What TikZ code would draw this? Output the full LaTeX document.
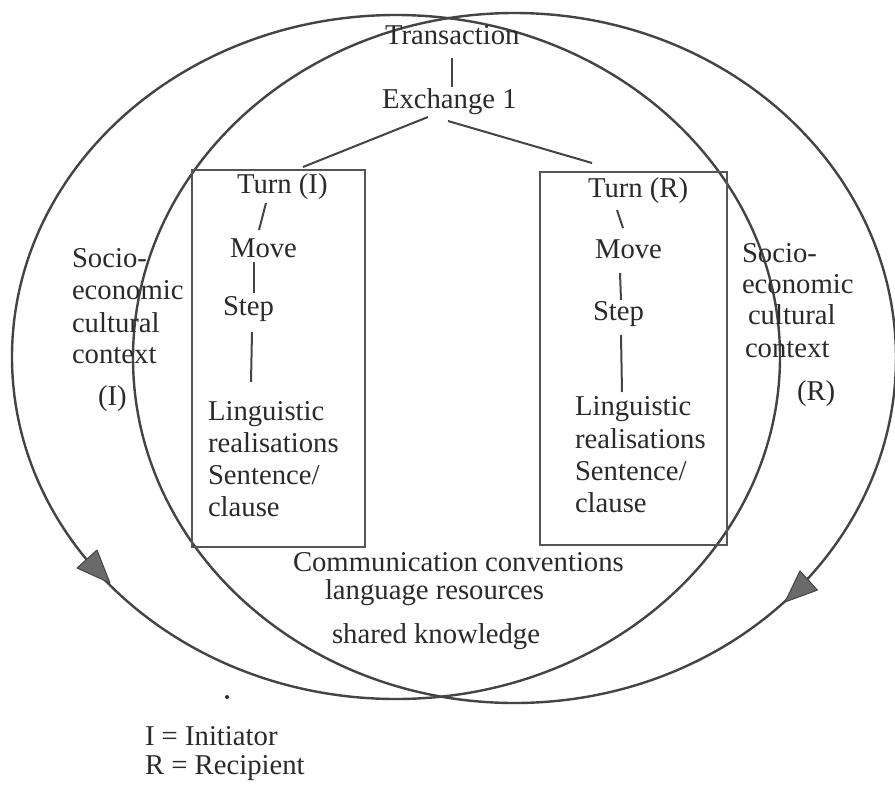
\documentclass[tikz,border=0pt]{standalone}
\usepackage{fontspec}
\setmainfont{Liberation Serif}
\usetikzlibrary{calc}
\definecolor{ink}{HTML}{2A2A2A}
\definecolor{pen}{HTML}{444444}
\definecolor{boxpen}{HTML}{555555}
\definecolor{headfill}{HTML}{6A6A6A}
\tikzset{
  lbl/.style={anchor=base west, inner sep=0pt, outer sep=0pt, text=ink, font=\fontsize{28.7}{32}\selectfont},
  conn/.style={draw=pen, line width=2pt},
  ring/.style={draw=pen, line width=2.4pt},
  frame/.style={draw=boxpen, line width=2pt},
  head/.style={fill=headfill, draw=pen, line width=1pt, line join=round},
}
\begin{document}
\begin{tikzpicture}[x=1pt,y=-1pt]
\useasboundingbox (0,0) rectangle (895,785);
\fill[white] (0,0) rectangle (895,785);

% two context ellipses
\draw[ring] (396,357) ellipse [x radius=384pt, y radius=342pt];
\draw[ring] (514.5,358) ellipse [x radius=381.5pt, y radius=345pt];
\filldraw[head] (110,583) -- (77,568) -- (97,550) -- cycle;
\filldraw[head] (785,602) -- (817.4,590.1) -- (800,570.9) -- cycle;

% boxes
\draw[frame] (192,170) rectangle (365,547);
\draw[frame] (540,172) rectangle (727,545);

% top of hierarchy
\node[lbl] (trans) at (385,44) {Transaction};
\node[lbl] (exch) at (382,108) {Exchange 1};

% left (initiator) column
\node[lbl] (turnI) at (237,193) {Turn (I)};
\node[lbl] (moveI) at (230,257) {Move};
\node[lbl] (stepI) at (223,315) {Step};
\node[lbl] (lingI) at (208,420) {Linguistic};
\node[lbl] (realI) at (208,452) {realisations};
\node[lbl] (sentI) at (208,484) {Sentence/};
\node[lbl] (clauI) at (208,516) {clause};

% right (recipient) column
\node[lbl] (turnR) at (588,197) {Turn (R)};
\node[lbl] (moveR) at (595,258) {Move};
\node[lbl] (stepR) at (593,320) {Step};
\node[lbl] (lingR) at (575,415) {Linguistic};
\node[lbl] (realR) at (575,448) {realisations};
\node[lbl] (sentR) at (575,480) {Sentence/};
\node[lbl] (clauR) at (575,512) {clause};

% context labels
\node[lbl] (soL1) at (72,267) {Socio-};
\node[lbl] (soL2) at (72,299) {economic};
\node[lbl] (soL3) at (72,332) {cultural};
\node[lbl] (soL4) at (72,363) {context};
\node[lbl] (soL5) at (98,405) {(I)};
\node[lbl] (soR1) at (742,262) {Socio-};
\node[lbl] (soR2) at (742,293) {economic};
\node[lbl] (soR3) at (748,324) {cultural};
\node[lbl] (soR4) at (745,357) {context};
\node[lbl] (soR5) at (797,400) {(R)};

% shared area
\node[lbl] (comm) at (293,571) {Communication conventions};
\node[lbl] (lang) at (325,599) {language resources};
\node[lbl] (shar) at (332,643) {shared knowledge};

% legend
\fill[ink] (227,697) circle (2pt);
\node[lbl] (legI) at (145,745) {I = Initiator};
\node[lbl] (legR) at (145,774) {R = Recipient};

% connectors
\draw[conn] ([shift={(67,14)}]trans.base west) -- ([shift={(70,-21)}]exch.base west);
\draw[conn] ([shift={(46,9)}]exch.base west) -- ([shift={(66,-26)}]turnI.base west);
\draw[conn] ([shift={(66,13)}]exch.base west) -- ([shift={(4,-34)}]turnR.base west);
\draw[conn] ([shift={(29,10)}]turnI.base west) -- ([shift={(29,-27)}]moveI.base west);
\draw[conn] ([shift={(24,5)}]moveI.base west) -- ([shift={(31,-22)}]stepI.base west);
\draw[conn] ([shift={(29,17)}]stepI.base west) -- ([shift={(43,-38)}]lingI.base west);
\draw[conn] ([shift={(29,13)}]turnR.base west) -- ([shift={(28,-30)}]moveR.base west);
\draw[conn] ([shift={(25,15)}]moveR.base west) -- ([shift={(28,-20)}]stepR.base west);
\draw[conn] ([shift={(28,15)}]stepR.base west) -- ([shift={(47,-23)}]lingR.base west);
\end{tikzpicture}
\end{document}
